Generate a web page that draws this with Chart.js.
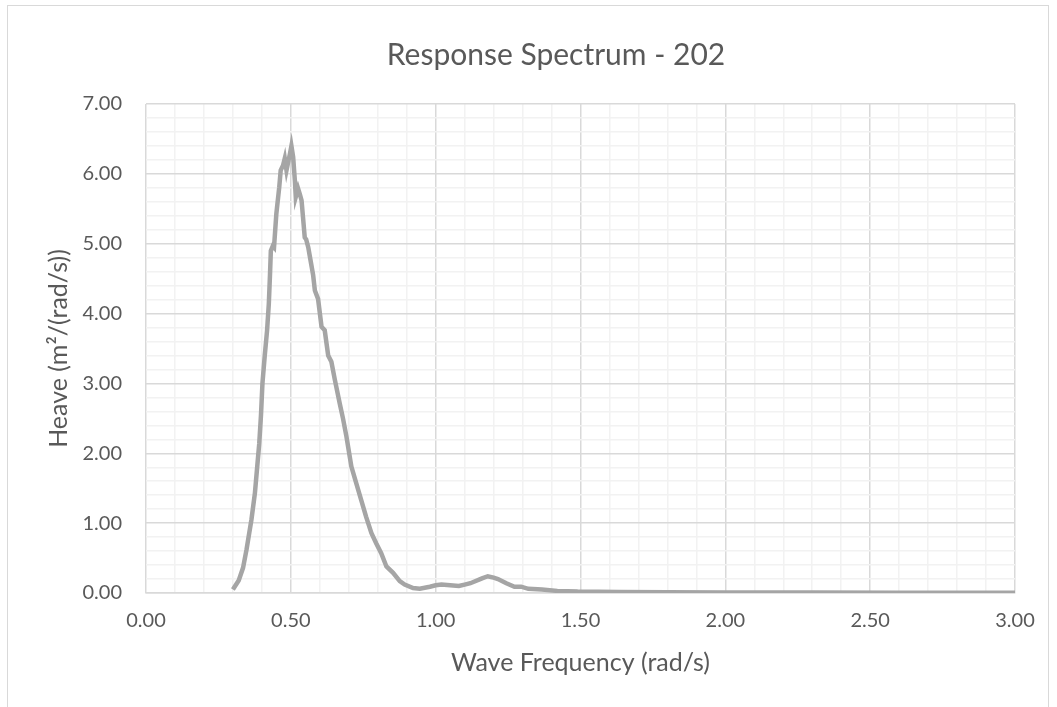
<!DOCTYPE html>
<html>
<head>
<meta charset="utf-8">
<script src="https://cdn.jsdelivr.net/npm/chart.js@4.4.0/dist/chart.umd.min.js"></script>
<style>
  html, body { margin: 0; padding: 0; background: #fff; }
  canvas { display: block; }
</style>
</head>
<body>
<canvas id="chart" width="1057" height="707"></canvas>
<script>
// frequency (rad/s) and heave response
const freq = [0.30, 0.32, 0.335, 0.347, 0.364, 0.376, 0.384, 0.391, 0.397, 0.402,
  0.41, 0.418, 0.424, 0.428, 0.431, 0.438, 0.442, 0.45, 0.46, 0.465,
  0.473, 0.479, 0.485, 0.49, 0.497, 0.502, 0.508, 0.514, 0.517, 0.525,
  0.531, 0.537, 0.542, 0.548, 0.553, 0.56, 0.566, 0.577, 0.583, 0.594,
  0.606, 0.617, 0.629, 0.64, 0.652, 0.669, 0.68, 0.692, 0.709, 0.726,
  0.743, 0.76, 0.778, 0.795, 0.812, 0.83, 0.853, 0.876, 0.893, 0.922,
  0.945, 0.98, 1.00, 1.02, 1.05, 1.08, 1.10, 1.12, 1.16, 1.18,
  1.20, 1.215, 1.244, 1.272, 1.295, 1.32, 1.367, 1.42, 1.49, 1.63,
  1.8, 2.0, 2.3, 2.6, 3.0];
const heave = [0.05, 0.18, 0.36, 0.62, 1.05, 1.43, 1.81, 2.14, 2.55, 3.0,
  3.40, 3.76, 4.14, 4.55, 4.90, 4.97, 4.95, 5.43, 5.81, 6.05,
  6.12, 6.22, 6.05, 6.15, 6.29, 6.40, 6.24, 5.90, 5.67, 5.79,
  5.71, 5.62, 5.38, 5.09, 5.06, 4.95, 4.81, 4.55, 4.33, 4.21,
  3.81, 3.76, 3.40, 3.31, 3.05, 2.71, 2.50, 2.24, 1.81, 1.57,
  1.33, 1.09, 0.86, 0.71, 0.57, 0.38, 0.29, 0.17, 0.12, 0.07,
  0.06, 0.09, 0.11, 0.12, 0.11, 0.10, 0.12, 0.14, 0.21, 0.24,
  0.22, 0.20, 0.14, 0.09, 0.09, 0.06, 0.05, 0.03, 0.02, 0.015,
  0.01, 0.008, 0.006, 0.005, 0.004];

const title = "Response Spectrum - 202";
const xTitle = "Wave Frequency (rad/s)";
const yTitle = "Heave (m\u00b2/(rad/s))";

const textColor = "#595959";
const fontFamily = "Lato, 'Open Sans', sans-serif";

function isMajor(v, step) {
  let r = v / step;
  return Math.abs(r - Math.round(r)) < 1e-6;
}

// outer chart frame + title (title sits a bit right of the canvas centre, like the original)
const frame = {
  id: "frame",
  beforeDraw(chart) {
    let c = chart.ctx;
    c.save();
    c.strokeStyle = "#d9d9d9";
    c.lineWidth = 1;
    c.strokeRect(7.5, 5.5, 1041, 760);
    c.restore();
  },
  afterDraw(chart) {
    let c = chart.ctx;
    c.save();
    c.fillStyle = textColor;
    c.font = "30px " + fontFamily;
    c.textAlign = "center";
    c.textBaseline = "middle";
    c.fillText(title, 556, 55);
    c.restore();
  }
};

let points = freq.map((f, i) => ({ x: f, y: heave[i] }));

new Chart(document.getElementById("chart"), {
  type: "scatter",
  data: {
    datasets: [{
      data: points,
      showLine: true,
      borderColor: "#a5a5a5",
      borderWidth: 4.5,
      pointRadius: 0,
      tension: 0,
      fill: false
    }]
  },
  options: {
    responsive: false,
    animation: false,
    devicePixelRatio: 1,
    layout: { padding: { left: 40, right: 42, top: 104, bottom: 25 } },
    plugins: {
      legend: { display: false },
      tooltip: { enabled: false },
      title: { display: false }
    },
    scales: {
      x: {
        type: "linear",
        min: 0,
        max: 3,
        afterFit: (s) => { s.height = 89; },
        ticks: {
          stepSize: 0.1,
          autoSkip: false,
          maxRotation: 0,
          padding: 16,
          color: textColor,
          font: { family: fontFamily, size: 20 },
          callback: (v) => isMajor(v, 0.5) ? v.toFixed(2) : ""
        },
        grid: {
          drawTicks: false,
          color: (ctx) => isMajor(ctx.tick.value, 0.5) ? "#d9d9d9" : "#f2f2f2",
          lineWidth: 1.5
        },
        border: { display: true, color: "#d9d9d9", width: 1.5 },
        title: {
          display: true,
          text: xTitle,
          color: textColor,
          font: { family: fontFamily, size: 25 }
        }
      },
      y: {
        type: "linear",
        min: 0,
        max: 7,
        afterFit: (s) => { s.width = 106; },
        ticks: {
          stepSize: 0.2,
          autoSkip: false,
          padding: 24,
          color: textColor,
          font: { family: fontFamily, size: 20 },
          callback: (v) => isMajor(v, 1) ? v.toFixed(2) : ""
        },
        grid: {
          drawTicks: false,
          color: (ctx) => isMajor(ctx.tick.value, 1) ? "#d9d9d9" : "#f2f2f2",
          lineWidth: 1.5
        },
        border: { display: false },
        title: {
          display: true,
          text: yTitle,
          color: textColor,
          font: { family: fontFamily, size: 25 }
        }
      }
    }
  },
  plugins: [frame]
});
</script>
</body>
</html>
